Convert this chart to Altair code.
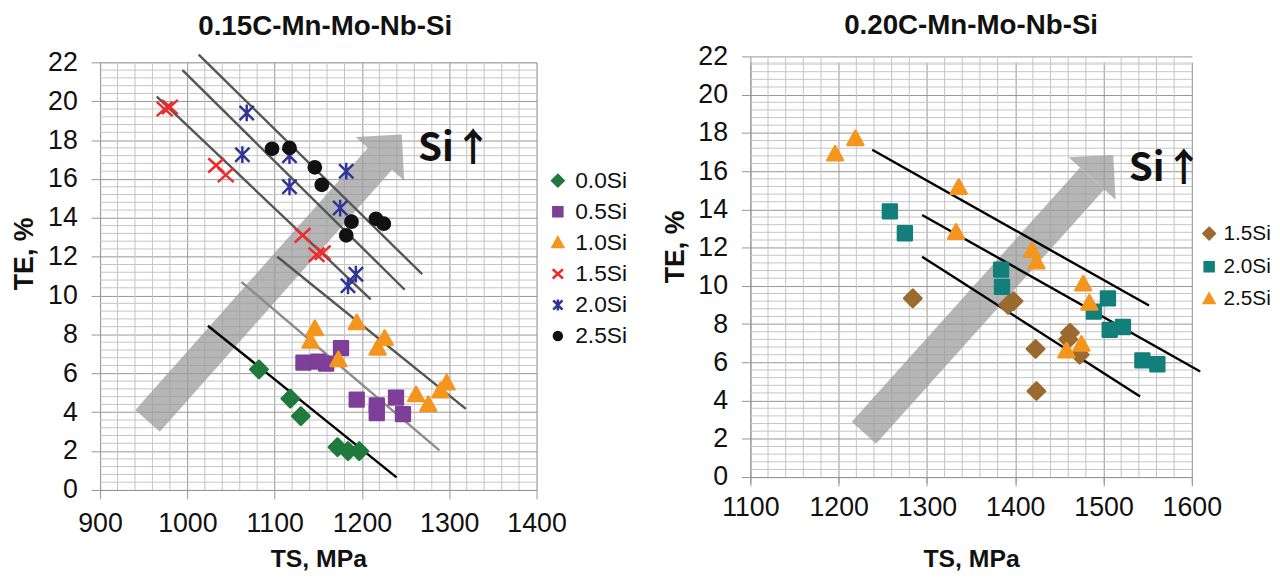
import altair as alt
import pandas as pd

# ---------------- Left panel: 0.15C-Mn-Mo-Nb-Si ----------------
L_series = ["0.0Si", "0.5Si", "1.0Si", "1.5Si", "2.0Si", "2.5Si"]
L_ts_00 = [1082, 1118, 1130, 1172, 1184, 1197]
L_te_00 = [6.2, 4.7, 3.8, 2.2, 2.0, 2.0]
L_ts_05 = [1133, 1150, 1159, 1176, 1194, 1217, 1217, 1239, 1247]
L_te_05 = [6.55, 6.6, 6.5, 7.3, 4.65, 4.35, 3.95, 4.75, 3.9]
L_ts_10 = [1146, 1141, 1194, 1226, 1218, 1173, 1262, 1276, 1297, 1290]
L_te_10 = [8.3, 7.65, 8.6, 7.8, 7.3, 6.7, 4.9, 4.4, 5.5, 5.1]
L_ts_15 = [974, 980, 1033, 1044, 1132, 1148, 1155]
L_te_15 = [19.6, 19.7, 16.7, 16.2, 13.1, 12.1, 12.2]
L_ts_20 = [1068, 1063, 1117, 1117, 1175, 1182, 1193, 1184]
L_te_20 = [19.4, 17.25, 17.2, 15.6, 14.5, 16.4, 11.1, 10.5]
L_ts_25 = [1097, 1117, 1146, 1154, 1188, 1182, 1216, 1225]
L_te_25 = [17.55, 17.6, 16.6, 15.7, 13.8, 13.1, 13.95, 13.7]

# trend lines (start / end) per series
L_line_ts0 = [1023.5, 1062, 1103, 965, 994.4, 1013]
L_line_te0 = [8.45, 10.7, 12.0, 20.24, 21.6, 22.4]
L_line_ts1 = [1239.6, 1288.7, 1319, 1210, 1249, 1269]
L_line_te1 = [0.65, 2.04, 4.17, 9.8, 10.3, 11.1]

# "Si increases" arrow (tail, base of head, head centre) and its label
L_arrow_ts = [954.4, 1220.7]
L_arrow_te = [3.55, 17.04]
L_head_ts = [1233.1]
L_head_te = [17.66]
L_note_ts = [1306.8]
L_note_te = [17.54]

# ---------------- Right panel: 0.20C-Mn-Mo-Nb-Si ----------------
R_series = ["1.5Si", "2.0Si", "2.5Si"]
R_ts_15 = [1284, 1398, 1392, 1462, 1460, 1423, 1424, 1473]
R_te_15 = [9.35, 9.2, 9.0, 7.55, 7.2, 6.7, 4.5, 6.4]
R_ts_20 = [1258, 1275, 1384, 1385, 1505, 1489, 1507, 1522, 1544, 1561]
R_te_20 = [13.9, 12.75, 10.85, 9.95, 9.35, 8.65, 7.7, 7.85, 6.1, 5.9]
R_ts_25 = [1196, 1219, 1336, 1333, 1419, 1424, 1477, 1484, 1458, 1475]
R_te_25 = [16.9, 17.7, 15.15, 12.8, 11.85, 11.25, 10.1, 9.1, 6.6, 6.95]

R_line_ts0 = [1294.5, 1294.5, 1238]
R_line_te0 = [11.52, 13.71, 17.12]
R_line_ts1 = [1541.4, 1609.5, 1551.5]
R_line_te1 = [4.22, 5.52, 8.97]

R_arrow_ts = [1228.6, 1487]
R_arrow_te = [2.32, 15.61]
R_head_ts = [1499]
R_head_te = [16.23]
R_note_ts = [1570.6]
R_note_te = [16.1]

NOTE_TEXT = "Si↑"

# axis ticks: labelled majors and unlabelled minor grid positions
X_MAJOR_L = list(range(900, 1401, 100))
X_MAJOR_R = list(range(1100, 1601, 100))
Y_MAJOR = list(range(0, 23, 2))
X_MINOR_L = [v for v in range(900, 1401, 20) if v % 100]
X_MINOR_R = [v for v in range(1100, 1601, 20) if v % 100]
Y_MINOR = [round(0.4 * k, 1) for k in range(56) if k % 5]

# ---------------- styling ----------------
FONT = "Liberation Sans"
MAJOR = "#969696"
MINOR = "#c4c4c4"
TXT = "#111111"

P_DIAMOND = "M0,-0.88L0.88,0L0,0.88L-0.88,0Z"
P_SQUARE = "M-0.7,-0.7L0.7,-0.7L0.7,0.7L-0.7,0.7Z"
P_TRIANGLE = "M0,-0.8L0.8,0.64L-0.8,0.64Z"
P_X = "M-0.8,-0.72L0.8,0.72M0.8,-0.72L-0.8,0.72"
P_STAR = "M-0.72,-0.72L0.72,0.72M0.72,-0.72L-0.72,0.72M0,-0.85L0,0.85"
P_CIRCLE = "M-0.62,0A0.62,0.62,0,1,1,0.62,0A0.62,0.62,0,1,1,-0.62,0Z"
P_HEAD = "M0,-0.5L1,0.5L-1,0.5Z"

L_colors = ["#1f7a3c", "#7e3f98", "#f4961e", "#ee2a2a", "#2f3596", "#111111"]
L_shapes = [P_DIAMOND, P_SQUARE, P_TRIANGLE, P_X, P_STAR, P_CIRCLE]
L_line_colors = ["#000000", "#8c8c8c", "#555555", "#555555", "#555555", "#555555"]
R_colors = ["#9b6a30", "#127f7b", "#f4961e"]
R_shapes = [P_DIAMOND, P_SQUARE, P_TRIANGLE]
R_line_colors = ["#000000", "#000000", "#000000"]


def pts_frame(series, ts_lists, te_lists):
    rows = []
    for s, xs, ys in zip(series, ts_lists, te_lists):
        for a, b in zip(xs, ys):
            rows.append({"series": s, "ts": a, "te": b})
    return pd.DataFrame(rows)


def x_axis(vals, label_pad, title_pad):
    return alt.Axis(
        values=vals, format="d", title="TS, MPa", labelOverlap=False, labelFlush=False,
        labelFont=FONT, labelFontSize=27, labelColor=TXT, labelPadding=label_pad,
        titleFont=FONT, titleFontSize=25, titleFontWeight="bold", titleColor=TXT,
        titlePadding=title_pad, grid=True, gridColor=MAJOR, gridWidth=1,
        tickSize=9, tickColor=MAJOR, domainColor=MAJOR,
    )


def y_axis(title_y):
    return alt.Axis(
        values=Y_MAJOR, format="d", title="TE, %", labelOverlap=False, labelFlush=False,
        labelFont=FONT, labelFontSize=27, labelColor=TXT, labelPadding=14,
        titleFont=FONT, titleFontSize=27, titleFontWeight="bold", titleColor=TXT,
        titlePadding=9, titleY=title_y, grid=True, gridColor=MAJOR, gridWidth=1,
        tickSize=9, tickColor=MAJOR, domainColor=MAJOR,
    )


def panel(title, title_off, title_dx, series, colors, shapes, line_colors, pts, lines,
          arrow, head, note, xdom, xmaj, xmin, width, height, yrange, x_label_pad,
          x_title_pad, title_y, legend_x, legend_y, row_pad, leg_font, leg_off, head_size):
    xs = alt.Scale(domain=xdom, nice=False, zero=False)
    ys = alt.Scale(domain=[0, 22], nice=False, zero=False, range=yrange)
    xa = x_axis(xmaj, x_label_pad, x_title_pad)
    ya = y_axis(title_y)

    vgrid = alt.Chart(pd.DataFrame({"v": xmin})).mark_rule(color=MINOR, strokeWidth=1).encode(
        x=alt.X("v:Q", scale=xs, axis=xa), y=alt.Y(datum=0, scale=ys, axis=ya), y2=alt.Y2(datum=22))
    hgrid = alt.Chart(pd.DataFrame({"v": Y_MINOR})).mark_rule(color=MINOR, strokeWidth=1).encode(
        y=alt.Y("v:Q", scale=ys, axis=ya), x=alt.X(datum=xdom[0], scale=xs, axis=xa),
        x2=alt.X2(datum=xdom[1]))
    shaft = alt.Chart(arrow).mark_rule(
        strokeWidth=33, strokeCap="butt", color="#9a9a9a", opacity=0.72
    ).encode(x=alt.X("x0:Q", scale=xs, axis=xa), y=alt.Y("y0:Q", scale=ys, axis=ya),
             x2="x1:Q", y2="y1:Q")
    headm = alt.Chart(head).mark_point(
        shape=P_HEAD, size=head_size, angle=42, filled=True,
        color="#9a9a9a", opacity=0.72, strokeWidth=0,
    ).encode(x=alt.X("ts:Q", scale=xs, axis=xa), y=alt.Y("te:Q", scale=ys, axis=ya))

    trend_layers = []
    for s, c in zip(series, line_colors):
        trend_layers.append(
            alt.Chart(lines).transform_filter(alt.datum.series == s)
            .mark_rule(strokeWidth=2.4, color=c)
            .encode(x=alt.X("x0:Q", scale=xs, axis=xa), y=alt.Y("y0:Q", scale=ys, axis=ya),
                    x2="x1:Q", y2="y1:Q")
        )
    text = alt.Chart(note).mark_text(
        font="Noto Sans CJK JP", fontSize=39, fontWeight="bold", color=TXT,
        align="center", baseline="middle",
    ).encode(x=alt.X("ts:Q", scale=xs, axis=xa), y=alt.Y("te:Q", scale=ys, axis=ya),
             text="label:N")
    leg = alt.Legend(
        title=None, orient="none", legendX=legend_x, legendY=legend_y,
        labelFont=FONT, labelFontSize=leg_font, labelColor=TXT, labelOffset=leg_off,
        symbolSize=169, symbolStrokeWidth=2.5, rowPadding=row_pad, padding=0,
    )
    points = alt.Chart(pts).mark_point(
        filled=True, size=400, strokeWidth=2.5, opacity=1, strokeJoin="round"
    ).encode(
        x=alt.X("ts:Q", scale=xs, axis=xa), y=alt.Y("te:Q", scale=ys, axis=ya),
        fill=alt.Fill("series:N", scale=alt.Scale(domain=series, range=colors), legend=leg),
        stroke=alt.Stroke("series:N", scale=alt.Scale(domain=series, range=colors), legend=leg),
        shape=alt.Shape("series:N", scale=alt.Scale(domain=series, range=shapes), legend=leg),
    )
    return alt.layer(vgrid, hgrid, shaft, headm, *trend_layers, text, points).properties(
        width=width, height=height,
        title=alt.TitleParams(title, font=FONT, fontSize=28, fontWeight="bold",
                              color=TXT, offset=title_off, anchor="middle", frame="group",
                              dx=title_dx),
    )


L_pts = pts_frame(L_series, [L_ts_00, L_ts_05, L_ts_10, L_ts_15, L_ts_20, L_ts_25],
                  [L_te_00, L_te_05, L_te_10, L_te_15, L_te_20, L_te_25])
R_pts = pts_frame(R_series, [R_ts_15, R_ts_20, R_ts_25], [R_te_15, R_te_20, R_te_25])
L_lines = pd.DataFrame({"series": L_series, "x0": L_line_ts0, "y0": L_line_te0,
                        "x1": L_line_ts1, "y1": L_line_te1})
R_lines = pd.DataFrame({"series": R_series, "x0": R_line_ts0, "y0": R_line_te0,
                        "x1": R_line_ts1, "y1": R_line_te1})
L_arrow = pd.DataFrame({"x0": [L_arrow_ts[0]], "y0": [L_arrow_te[0]],
                        "x1": [L_arrow_ts[1]], "y1": [L_arrow_te[1]]})
R_arrow = pd.DataFrame({"x0": [R_arrow_ts[0]], "y0": [R_arrow_te[0]],
                        "x1": [R_arrow_ts[1]], "y1": [R_arrow_te[1]]})
L_head = pd.DataFrame({"ts": L_head_ts, "te": L_head_te})
R_head = pd.DataFrame({"ts": R_head_ts, "te": R_head_te})
L_note = pd.DataFrame({"ts": L_note_ts, "te": L_note_te, "label": [NOTE_TEXT]})
R_note = pd.DataFrame({"ts": R_note_ts, "te": R_note_te, "label": [NOTE_TEXT]})

left = panel("0.15C-Mn-Mo-Nb-Si", 8, 7, L_series, L_colors, L_shapes, L_line_colors,
             L_pts, L_lines, L_arrow, L_head, L_note, [900, 1400], X_MAJOR_L, X_MINOR_L,
             441, 432, [432, 0], 12, 10, 193, 451, 108, 7.4, 23, 6, 4356)
right = panel("0.20C-Mn-Mo-Nb-Si", 3, 0, R_series, R_colors, R_shapes, R_line_colors,
              R_pts, R_lines, R_arrow, R_head, R_note, [1100, 1600], X_MAJOR_R, X_MINOR_R,
              446, 419, [419, -6], 9, 26, 186, 453, 162.5, 10.5, 21, 4, 4096)

chart = alt.hconcat(left, right, spacing=216, bounds="flush").resolve_scale(
    x="independent", y="independent", fill="independent", stroke="independent",
    shape="independent",
).configure_view(stroke=None).configure(padding={"left": 2, "top": 0, "right": 0, "bottom": -2})

chart.save("out.html", embed_options={"renderer": "svg", "actions": False})
